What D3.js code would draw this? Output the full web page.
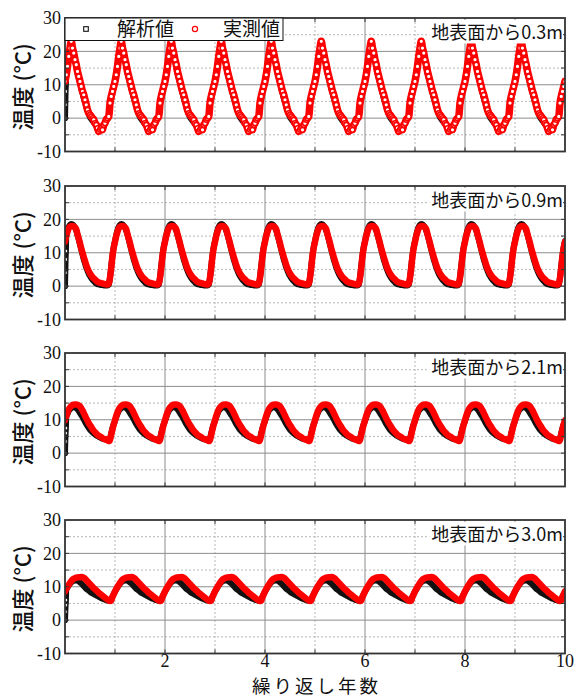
<!DOCTYPE html>
<html><head><meta charset="utf-8">
<script src="https://cdn.jsdelivr.net/npm/d3@7"></script>
<style>body{margin:0;background:#fff}svg{display:block}</style>
</head><body><svg id="c" width="574" height="698"></svg>
<script>
// ---- data (one annual cycle, repeated for each year) ----
const phase = [0.000,0.025,0.050,0.075,0.100,0.125,0.150,0.175,0.200,0.225,
               0.250,0.275,0.300,0.325,0.350,0.375,0.400,0.425,0.450,0.475,
               0.500,0.525,0.550,0.575,0.600,0.625,0.650,0.675,0.700,0.725,
               0.750,0.775,0.800,0.825,0.850,0.875,0.900,0.925,0.950,0.975];
const startPhase = [0, 0.006, 0.012, 0.018];
const years = 10;

const depthLabels = ["地表面から0.3m","地表面から0.9m","地表面から2.1m","地表面から3.0m"];
const seriesNames = ["解析値","実測値"];

const meas03 = [11,13,15.5,18.5,21,23,21,19.5,17.5,16,14,12.5,11,9.5,8,7,5.5,4,2.5,1.5,
                1,0.5,0,-0.5,-1.5,-2,-3,-4,-3.5,-3,-3.5,-2,-1.5,-0.5,0,0.5,4.5,6.5,8,9.5];
const ana03  = [11,13.5,16,18.5,20.5,21.5,20.5,19,17.5,15.5,13.5,12,10.5,9,7.5,6,4.8,3.5,2.3,1.2,
                0.3,-0.3,-0.8,-1.2,-1.8,-2.3,-2.8,-3.3,-3.2,-2.8,-2.8,-2.2,-1.5,-0.8,-0.3,0.5,4,6,7.8,9.3];
const anaStart03 = [0,4,8,10.5];

const meas09 = [13.3,15,16.3,17.3,17.8,18,18,17.9,17.6,17,15.5,14.2,12.8,11.3,10,8.7,7.5,6.3,5.3,4.5,
                3.8,3.2,2.7,2.3,2,1.6,1.3,1.1,1,0.9,0.8,0.7,0.6,0.5,0.5,0.8,2.5,5.5,9,11.5];
const ana09  = [13.5,15.3,16.8,17.8,18.4,18.6,18.5,18.1,17.5,16.6,15.4,14,12.5,11,9.5,8,6.8,5.6,4.6,3.7,
                3,2.4,1.9,1.5,1.1,0.8,0.6,0.5,0.4,0.3,0.3,0.2,0.2,0.2,0.2,0.4,2.5,6,9.3,11.8];
const anaStart09 = [0,4,8,10.5];

const meas21 = [9.8,11.1,12.2,13.1,13.7,14.1,14.4,14.5,14.6,14.6,14.5,14.3,14,13.4,12.8,12,11.2,10.4,9.7,9,
                8.4,7.8,7.2,6.7,6.3,5.9,5.5,5.2,5,4.8,4.5,4.3,4.2,4,3.8,3.6,4,5.6,7.2,8.6];
const ana21  = [9.6,10.8,11.8,12.6,13.1,13.5,13.7,13.8,13.7,13.5,13.1,12.6,12,11.4,10.8,10.1,9.4,8.7,8.1,7.5,
                7,6.6,6.2,5.9,5.6,5.3,5.1,4.9,4.7,4.5,4.3,4.2,4.1,4,3.9,3.9,4.4,6,7.5,8.7];
const anaStart21 = [0,3.5,6,7.5];

const meas30 = [8.6,9.3,10,10.6,11.2,11.7,12.1,12.4,12.6,12.75,12.8,12.85,12.85,12.9,12.85,12.7,12.4,12,11.6,11.2,
                10.8,10.4,10,9.6,9.3,8.9,8.6,8.2,7.9,7.6,7.3,7,6.7,6.4,6.1,5.9,5.7,5.9,7,7.8];
const ana30  = [8.5,9.2,9.8,10.4,10.9,11.3,11.6,11.8,11.9,11.9,11.8,11.6,11.3,11,10.6,10.2,9.8,9.4,9.1,8.8,
                8.5,8.2,8,7.8,7.6,7.4,7.2,7,6.8,6.6,6.4,6.3,6.1,6,5.9,5.8,5.8,6.2,7,7.8];
const anaStart30 = [0,2.5,4.5,6];

const xTicks = [2,4,6,8,10];
const xGridMajor = [2,4,6,8];
const xGridMinor = [1,3,5,7,9];
const yTicks = [-10,0,10,20,30];
const yGridMajor = [0,10,20];
const yGridMinor = [-5,5,15,25];
const allTicksX = [1,2,3,4,5,6,7,8,9];
const allTicksY = [-5,0,5,10,15,20,25];

const panels = [
  {label: depthLabels[0], meas: meas03, ana: ana03, start: anaStart03, markers: true, legend: true},
  {label: depthLabels[1], meas: meas09, ana: ana09, start: anaStart09},
  {label: depthLabels[2], meas: meas21, ana: ana21, start: anaStart21},
  {label: depthLabels[3], meas: meas30, ana: ana30, start: anaStart30}
];

// ---- layout ----
const L = 65, R = 565, H = 133.5;
const tops = [18, 186, 353, 520];
const svg = d3.select("#c");
const x = d3.scaleLinear().domain([0, years]).range([L, R]);

function buildSeries(cycle, start) {
  const pts = [];
  for (let y = 0; y < years; y++) {
    if (y === 0 && start) start.forEach((v, i) => pts.push([startPhase[i], v]));
    cycle.forEach((v, i) => {
      if (y === 0 && start && i === 0) return;
      pts.push([y + phase[i], v]);
    });
  }
  pts.push([years, cycle[0]]);
  return pts;
}

const CJK = "'Noto Sans CJK JP','Noto Sans',sans-serif";
const SERIF = "'Liberation Serif','Times New Roman',serif";

panels.forEach((p, k) => {
  const top = tops[k];
  const y = d3.scaleLinear().domain([-10, 30]).range([top + H, top]);
  const g = svg.append("g");

  // grid
  g.selectAll(".gxm").data(xGridMinor).join("line")
    .attr("x1", d => x(d)).attr("x2", d => x(d)).attr("y1", top).attr("y2", top + H)
    .attr("stroke", "#b0b0b0").attr("stroke-width", 0.9).attr("stroke-dasharray", "2,2");
  g.selectAll(".gym").data(yGridMinor).join("line")
    .attr("x1", L).attr("x2", R).attr("y1", d => y(d)).attr("y2", d => y(d))
    .attr("stroke", "#b0b0b0").attr("stroke-width", 0.9).attr("stroke-dasharray", "2,2");
  g.selectAll(".gxM").data(xGridMajor).join("line")
    .attr("x1", d => x(d)).attr("x2", d => x(d)).attr("y1", top).attr("y2", top + H)
    .attr("stroke", "#8c8c8c").attr("stroke-width", 1);
  g.selectAll(".gyM").data(yGridMajor).join("line")
    .attr("x1", L).attr("x2", R).attr("y1", d => y(d)).attr("y2", d => y(d))
    .attr("stroke", "#8c8c8c").attr("stroke-width", 1);

  // clip
  const cid = "clip" + k;
  svg.append("clipPath").attr("id", cid).append("rect")
    .attr("x", L).attr("y", top).attr("width", R - L).attr("height", H);
  const plot = g.append("g").attr("clip-path", `url(#${cid})`);

  const line = d3.line().x(d => x(d[0])).y(d => y(d[1])).curve(d3.curveMonotoneX);
  const ana = buildSeries(p.ana, p.start);
  const meas = buildSeries(p.meas, null);

  plot.append("path").attr("d", line(ana)).attr("fill", "none")
    .attr("stroke", "#111").attr("stroke-width", 6).attr("stroke-linejoin", "round").attr("stroke-linecap", "round");
  // start transient squares
  plot.selectAll(".sq").data(ana.slice(0, startPhase.length)).join("rect")
    .attr("x", d => x(d[0]) - 1.8).attr("y", d => y(d[1]) - 1.8).attr("width", 3.6).attr("height", 3.6)
    .attr("fill", "#fff").attr("stroke", "#111").attr("stroke-width", 1);

  plot.append("path").attr("d", line(meas)).attr("fill", "none")
    .attr("stroke", "#f00").attr("stroke-width", p.markers ? 7.5 : 6.5)
    .attr("stroke-linejoin", "round").attr("stroke-linecap", "round");
  if (p.markers) {
    plot.selectAll(".mk").data(meas).join("circle")
      .attr("cx", d => x(d[0])).attr("cy", d => y(d[1])).attr("r", 2.4)
      .attr("fill", "#fff").attr("stroke", "#f00").attr("stroke-width", 1.6);
  }

  // inward ticks
  const tk = g.append("g").attr("stroke", "#333").attr("stroke-width", 1);
  allTicksX.forEach(t => {
    tk.append("line").attr("x1", x(t)).attr("x2", x(t)).attr("y1", top + H).attr("y2", top + H - 4);
    tk.append("line").attr("x1", x(t)).attr("x2", x(t)).attr("y1", top).attr("y2", top + 4);
  });
  allTicksY.forEach(t => {
    tk.append("line").attr("x1", L).attr("x2", L + 4).attr("y1", y(t)).attr("y2", y(t));
    tk.append("line").attr("x1", R).attr("x2", R - 4).attr("y1", y(t)).attr("y2", y(t));
  });

  // frame
  g.append("rect").attr("x", L).attr("y", top).attr("width", R - L).attr("height", H)
    .attr("fill", "none").attr("stroke", "#333").attr("stroke-width", 1.8);

  // y tick labels
  g.selectAll(".yl").data(yTicks).join("text")
    .attr("x", L - 4).attr("y", d => y(d)).attr("dy", "0.35em")
    .attr("text-anchor", "end").attr("font-family", SERIF).attr("font-size", 18).attr("fill", "#111")
    .text(d => d);

  // y axis title
  g.append("text").attr("transform", `translate(31,${top + H / 2 + 2}) rotate(-90)`)
    .attr("text-anchor", "middle").attr("font-family", CJK).attr("font-size", 22)
    .attr("font-weight", 500).attr("fill", "#111").text("温度 (°C)");

  // depth label with white background
  const lt = g.append("text").attr("x", 563).attr("y", top + 15).attr("dy", "0.36em")
    .attr("text-anchor", "end").attr("font-family", CJK).attr("font-size", 18).attr("fill", "#111")
    .text(p.label);
  const bb = lt.node().getBBox();
  g.insert("rect", () => lt.node()).attr("x", bb.x - 2).attr("y", bb.y + 1).attr("width", bb.width + 2).attr("height", bb.height - 2)
    .attr("fill", "#fff");

  // legend
  if (p.legend) {
    const lg = g.append("g");
    lg.append("rect").attr("x", L).attr("y", top).attr("width", 218).attr("height", 22.5)
      .attr("fill", "#fff").attr("stroke", "#111").attr("stroke-width", 1);
    lg.append("rect").attr("x", 86 - 2.3).attr("y", top + 11 - 2.3).attr("width", 4.6).attr("height", 4.6)
      .attr("fill", "#fff").attr("stroke", "#111").attr("stroke-width", 1.1);
    lg.append("text").attr("x", 117).attr("y", top + 11).attr("dy", "0.36em")
      .attr("font-family", CJK).attr("font-size", 19).attr("fill", "#111").text(seriesNames[0]);
    lg.append("circle").attr("cx", 195).attr("cy", top + 11).attr("r", 2.6)
      .attr("fill", "#fff").attr("stroke", "#f00").attr("stroke-width", 1.2);
    lg.append("text").attr("x", 223).attr("y", top + 11).attr("dy", "0.36em")
      .attr("font-family", CJK).attr("font-size", 19).attr("fill", "#111").text(seriesNames[1]);
  }

  // x tick labels on bottom panel
  if (k === panels.length - 1) {
    g.selectAll(".xl").data(xTicks).join("text")
      .attr("x", d => x(d)).attr("y", 667)
      .attr("text-anchor", "middle").attr("font-family", SERIF).attr("font-size", 18).attr("fill", "#111")
      .text(d => d);
    g.append("text").attr("x", (L + R) / 2 + 1.5).attr("y", 692.5)
      .attr("text-anchor", "middle").attr("font-family", CJK).attr("font-size", 18.5)
      .attr("letter-spacing", 3).attr("fill", "#111")
      .text("繰り返し年数");
  }
});
</script></body></html>
